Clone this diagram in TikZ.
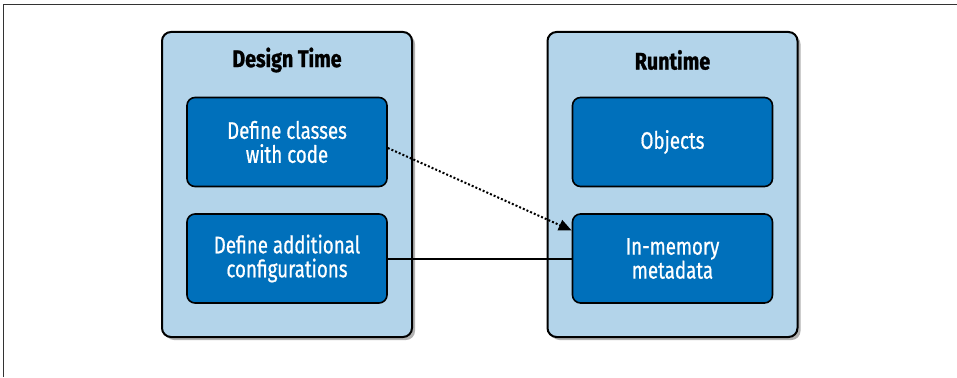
\documentclass[tikz,border=0pt]{standalone}
\usepackage{fontspec}
\setmainfont{Fira Sans}
\newfontfamily\boxfont[FakeStretch=0.78, FakeBold=0.7]{Fira Sans}
\newfontfamily\titlefont[FakeStretch=0.82, BoldFeatures={FakeBold=1.2}]{Fira Sans}
\usetikzlibrary{arrows.meta,shadows}
\definecolor{outerblue}{HTML}{B3D4EA}
\definecolor{innerblue}{HTML}{0070BB}
\definecolor{framegray}{HTML}{333333}
\tikzset{
  outerbox/.style={draw=black, line width=2pt, fill=outerblue, rounded corners=9pt,
    minimum width=250pt, minimum height=305pt, inner sep=0pt,
    drop shadow={shadow xshift=3pt, shadow yshift=-3pt, opacity=0.3, fill=black}},
  innerbox/.style={draw=black, line width=1.6pt, fill=innerblue, rounded corners=8pt,
    minimum width=200pt, minimum height=89pt, inner sep=0pt, align=center,
    text=white, font=\boxfont\fontsize{24}{24}\selectfont},
  titletext/.style={font=\titlefont\fontsize{24}{24}\selectfont\bfseries, text=black},
  link/.style={line width=2pt, draw=black}
}
\begin{document}
\begin{tikzpicture}[x=1pt,y=-1pt]
\useasboundingbox (0,0) rectangle (957,377);
\draw[framegray, line width=1.3pt] (3.5,377) -- (3.5,4.5) -- (957,4.5);
% outer containers
\node[outerbox] (design) at (287,184.5) {};
\node[outerbox] (runtime) at (672.5,184.5) {};
\node[titletext] (designtitle) at (287,60) {Design Time};
\node[titletext] (runtimetitle) at (672.5,60) {Runtime};
% inner boxes
\node[innerbox] (classes) at (287,142) {Define classes\\with code};
\node[innerbox] (config) at (287,258.5) {Define additional\\configurations};
\node[innerbox] (objects) at (672.5,142) {Objects};
\node[innerbox] (meta) at (672.5,258.5) {In-memory\\metadata};
% connectors
\draw[link] (config.east) -- (meta.west);
\draw[link, dash pattern=on 2pt off 2pt, -{Triangle[length=13pt,width=11pt]}] ([yshift=-6pt]classes.east) -- ([yshift=28pt]meta.west);
\end{tikzpicture}
\end{document}
